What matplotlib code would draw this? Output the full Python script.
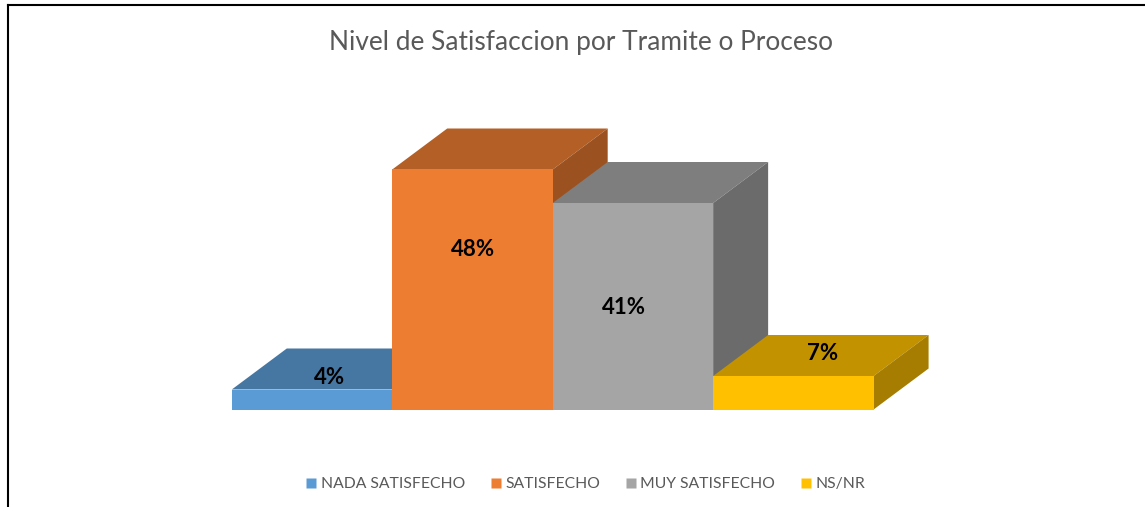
import matplotlib
matplotlib.use("Agg")
import matplotlib.pyplot as plt
from matplotlib.patches import Polygon, Rectangle
from matplotlib.lines import Line2D

categories = ["NADA SATISFECHO", "SATISFECHO", "MUY SATISFECHO", "NS/NR"]
values = [4.0, 48.0, 41.3, 6.7]

front_colors = ["#5B9BD5", "#ED7D31", "#A5A5A5", "#FFC000"]
top_colors = ["#4676A2", "#B45F25", "#7E7E7E", "#C29200"]
side_colors = ["#3E6A91", "#9C5220", "#6B6B6B", "#A67D00"]

W, H = 1145, 507
fig = plt.figure(figsize=(W / 100, H / 100), dpi=100, facecolor="white")
plt.rcParams["font.family"] = ["Lato", "DejaVu Sans"]

# axes spans the four bars horizontally; 5 px per percentage point vertically
base_px, unit_px = 409.5, 5.0
left_px, right_px = 231.8, 873.6
ax = fig.add_axes([left_px / W, (H - base_px) / H, (right_px - left_px) / W, 50 * unit_px / H])
ax.set_xlim(0, 4)
ax.set_ylim(0, 50)
ax.axis("off")

depth_x = 55 / 160.5
depth_y = 41 / unit_px

for i, v in enumerate(values):
    ax.add_patch(Polygon([(i, v), (i + depth_x, v + depth_y), (i + 1 + depth_x, v + depth_y), (i + 1, v)],
                         closed=True, fc=top_colors[i], ec="none", clip_on=False))
    ax.add_patch(Polygon([(i + 1, 0), (i + 1 + depth_x, depth_y), (i + 1 + depth_x, v + depth_y), (i + 1, v)],
                         closed=True, fc=side_colors[i], ec="none", clip_on=False))
    ax.add_patch(Rectangle((i, 0), 1, v, fc=front_colors[i], ec="none", clip_on=False))

# data label centres in figure pixels
label_px = [(330, 377), (473.5, 249), (623.5, 307), (823, 353)]
for (x, y), v in zip(label_px, values):
    fig.text(x / W, 1 - y / H, f"{v:.0f}%", ha="center", va="center", fontsize=16, fontweight="bold", color="black")

fig.text(581 / W, 1 - 42.5 / H, "Nivel de Satisfaccion por Tramite o Proceso",
         ha="center", va="center", fontsize=18.9, color="#595959")

handles = [Line2D([], [], ls="none", marker="s", ms=7.2, mfc=c, mec="none") for c in front_colors]
fig.legend(handles, categories, loc="center", bbox_to_anchor=(585.5 / W, 1 - 484 / H), ncol=4, frameon=False,
           fontsize=11.3, labelcolor="#595959", columnspacing=1.6, handletextpad=0.26, handlelength=0.7)

# screenshot frame (left and top only)
fig.add_artist(Line2D([8 / W, 8 / W], [0, 1 - 5 / H], color="black", lw=1.5))
fig.add_artist(Line2D([8 / W, 1], [1 - 5 / H, 1 - 5 / H], color="black", lw=1.5))

fig.savefig("out.png", dpi=100)
